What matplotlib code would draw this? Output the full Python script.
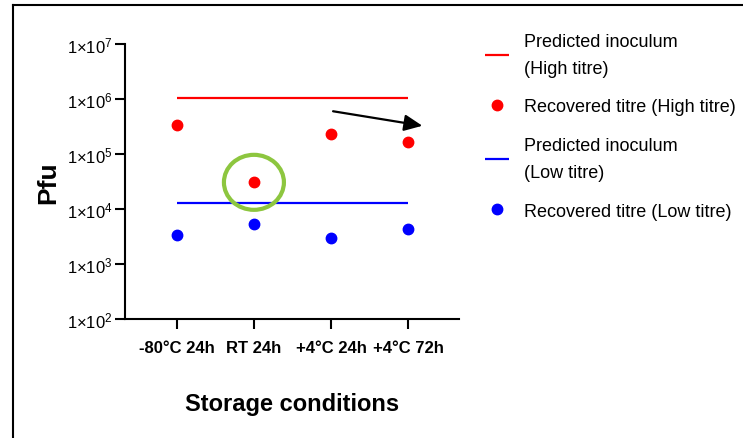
import numpy as np
import matplotlib
matplotlib.use("Agg")
import matplotlib.pyplot as plt
from matplotlib.patches import Ellipse
from matplotlib.lines import Line2D

plt.rcParams["font.family"] = ["Liberation Sans", "DejaVu Sans"]
plt.rcParams["mathtext.fontset"] = "custom"
plt.rcParams["mathtext.rm"] = "Liberation Sans"
plt.rcParams["mathtext.it"] = "Liberation Sans"
plt.rcParams["mathtext.bf"] = "Liberation Sans:bold"

# === data ===
categories = ["-80°C 24h", "RT 24h", "+4°C 24h", "+4°C 72h"]
high_recovered = [3.4e5, 3.05e4, 2.35e5, 1.65e5]
low_recovered = [3.4e3, 5.3e3, 2.95e3, 4.3e3]
high_predicted = 1.06e6
low_predicted = 1.3e4
ytick_exp = [2, 3, 4, 5, 6, 7]
ytick_labels = [r"1×10$^{%d}$" % k for k in ytick_exp]

red = "#ff0000"
blue = "#0000ff"
green = "#8dc63f"

fig = plt.figure(figsize=(7.43, 4.39), dpi=100)
ax = fig.add_axes([125 / 743, 1 - 320 / 439, (459 - 125) / 743, 275 / 439])

x = np.arange(len(categories))
ax.hlines(high_predicted, x[0], x[-1], color=red, lw=1.6,
          label="Predicted inoculum\n(High titre)")
ax.plot(x, high_recovered, "o", color=red, ms=7.5, ls="none",
        label="Recovered titre (High titre)")
ax.hlines(low_predicted, x[0], x[-1], color=blue, lw=1.6,
          label="Predicted inoculum\n(Low titre)")
ax.plot(x, low_recovered, "o", color=blue, ms=7.5, ls="none",
        label="Recovered titre (Low titre)")

ax.set_yscale("log")
ax.set_ylim(1e2, 1e7)
ax.set_xlim(-0.675, 3.66)
ax.set_yticks([10.0 ** k for k in ytick_exp])
ax.set_yticklabels(ytick_labels)
ax.yaxis.set_minor_locator(matplotlib.ticker.NullLocator())
ax.set_xticks(x)
ax.set_xticklabels(categories, fontweight="bold")

for s in ["top", "right"]:
    ax.spines[s].set_visible(False)
for s in ["left", "bottom"]:
    ax.spines[s].set_linewidth(1.5)
ax.tick_params(axis="y", length=7, width=1.5, labelsize=12, pad=2)
ax.tick_params(axis="x", length=7, width=1.5, labelsize=12, pad=8)

ax.set_ylabel("Pfu", fontsize=19, fontweight="bold", labelpad=5)
ax.set_xlabel("Storage conditions", fontsize=17, fontweight="bold", labelpad=27)

# green highlight circle
ell = Ellipse((0.386, 0.497), 60 / 334, 55 / 275, transform=ax.transAxes,
              fill=False, edgecolor=green, lw=3, clip_on=False, zorder=5)
ax.add_patch(ell)

# arrow
ax.annotate("", xy=(3.22, 3.2e5), xytext=(1.99, 6.1e5),
            arrowprops=dict(arrowstyle="-|>,head_length=1.1,head_width=0.5",
                            color="black", lw=1.6), annotation_clip=False)

leg = fig.legend(loc="upper left", bbox_to_anchor=(476 / 743, 1 - 25 / 439),
                 frameon=False, fontsize=13, handlelength=1.3,
                 handletextpad=0.85, labelspacing=1.2, borderpad=0)
for t in leg.get_texts():
    t.set_linespacing(1.75)

# frame lines of the original panel
fig.add_artist(Line2D([13 / 743, 1], [1 - 6 / 439, 1 - 6 / 439],
                      transform=fig.transFigure, color="black", lw=1.5))
fig.add_artist(Line2D([13 / 743, 13 / 743], [0, 1 - 6 / 439],
                      transform=fig.transFigure, color="black", lw=1.5))

fig.savefig("out.png", dpi=100)
